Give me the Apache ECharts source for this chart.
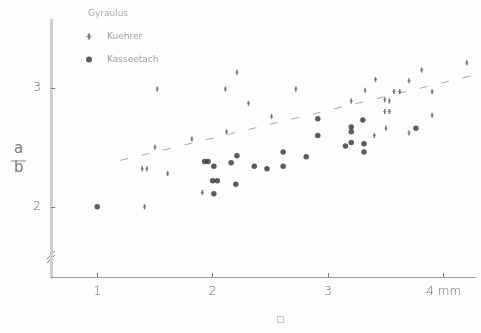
<!DOCTYPE html>
<html>
<head>
<meta charset="utf-8">
<script src="https://cdn.jsdelivr.net/npm/echarts@6/dist/echarts.min.js"></script>
<style>
  html, body { margin: 0; padding: 0; background: #fdfdfd; }
  #chart { width: 481px; height: 333px; }
</style>
</head>
<body>
<div id="chart"></div>
<script>
// Shell width (mm) against the a/b ratio for two Gyraulus populations
const legendTitle = 'Gyraulus';
const seriesNames = ['Kuehrer', 'Kasseetach'];

const kuehrerX = [1.52, 2.11, 2.21, 2.12, 1.82, 1.50, 1.39, 1.43, 1.61, 1.91, 1.41,
                  2.72, 2.31, 2.51, 3.41, 3.81, 4.20, 3.70, 3.90, 3.90, 3.32, 3.57,
                  3.62, 3.20, 3.49, 3.53, 3.49, 3.53, 3.50, 3.40, 3.70];
const kuehrerY = [2.99, 2.99, 3.13, 2.63, 2.57, 2.50, 2.32, 2.32, 2.28, 2.12, 2.00,
                  2.99, 2.87, 2.76, 3.07, 3.15, 3.21, 3.06, 2.97, 2.77, 2.98, 2.97,
                  2.97, 2.89, 2.90, 2.89, 2.80, 2.80, 2.66, 2.60, 2.62];

const kasseetachX = [1.00, 1.93, 1.96, 2.01, 2.21, 2.16, 2.36, 2.47, 2.61, 2.81, 2.61,
                     2.00, 2.04, 2.20, 2.01, 2.91, 2.91, 3.30, 3.20, 3.20, 3.20, 3.15,
                     3.31, 3.31, 3.76];
const kasseetachY = [2.00, 2.38, 2.38, 2.34, 2.43, 2.37, 2.34, 2.32, 2.46, 2.42, 2.34,
                     2.22, 2.22, 2.19, 2.11, 2.74, 2.60, 2.73, 2.67, 2.63, 2.54, 2.51,
                     2.53, 2.46, 2.66];

// Fitted trend for the Kuehrer sample
const trendX = [1.20, 4.28];
const trendY = [2.39, 3.11];

const xTicks = [1, 2, 3, 4];
const xTickLabels = ['1', '2', '3', '4 mm'];
const yTicks = [2, 3];
const yTickLabels = ['2', '3'];

const zip = (xs, ys) => xs.map((x, i) => [x, ys[i]]);

// small upright tick mark with a faint cross bar
const kuehrerSymbol = 'path://M3,0L7,0L7,10L3,10Z M1,4L9,4L9,6L1,6Z';

const chart = echarts.init(document.getElementById('chart'), null, { renderer: 'canvas' });

chart.setOption({
  backgroundColor: '#fdfdfd',
  animation: false,
  textStyle: { fontFamily: 'DejaVu Sans' },
  grid: { left: 51, right: 5, top: 20, bottom: 56, containLabel: false },
  xAxis: {
    type: 'value',
    min: 0.6,
    max: 4.28,
    splitLine: { show: false },
    axisLine: { show: true, lineStyle: { color: '#9a9a9a', width: 1 } },
    axisTick: { show: true, inside: true, length: 4, customValues: xTicks,
                lineStyle: { color: '#777' } },
    axisLabel: {
      customValues: xTicks,
      formatter: v => xTickLabels[xTicks.indexOf(v)],
      color: '#666', fontSize: 12, margin: 9, fontWeight: 300
    }
  },
  yAxis: {
    type: 'value',
    min: 1.41,
    max: 3.57,
    splitLine: { show: false },
    axisLine: { show: true, lineStyle: { color: '#cfcfcf', width: 3 } },
    axisTick: { show: true, inside: true, length: 4, customValues: yTicks,
                lineStyle: { color: '#777' } },
    axisLabel: {
      customValues: yTicks,
      formatter: v => yTickLabels[yTicks.indexOf(v)],
      color: '#666', fontSize: 12, margin: 10, fontWeight: 300
    }
  },
  legend: {
    orient: 'vertical',
    left: 86,
    top: 32,
    padding: 0,
    itemGap: 14,
    itemWidth: 6,
    itemHeight: 6,
    textStyle: { color: '#9c9c9c', fontSize: 9, padding: [0, 0, 0, 10] },
    data: [
      { name: seriesNames[0], icon: kuehrerSymbol, itemStyle: { color: '#666' } },
      { name: seriesNames[1], icon: 'circle', itemStyle: { color: '#333' } }
    ]
  },
  graphic: [
    { type: 'text', left: 88, top: 9,
      style: { text: legendTitle, fill: '#aaaaaa', font: '9px DejaVu Sans' } },
    { type: 'text', left: 14, top: 142,
      style: { text: 'a', fill: '#777', font: '15px DejaVu Sans' } },
    { type: 'line', shape: { x1: 11, y1: 161, x2: 26, y2: 161 },
      style: { stroke: '#888', lineWidth: 1 } },
    { type: 'text', left: 14, top: 161,
      style: { text: 'b', fill: '#777', font: '15px DejaVu Sans' } },
    { type: 'text', left: 276, top: 315,
      style: { text: '□', fill: '#999', font: '9px DejaVu Sans' } },
    { type: 'line', shape: { x1: 47, y1: 259, x2: 55, y2: 251 },
      style: { stroke: '#888', lineWidth: 1 } },
    { type: 'line', shape: { x1: 47, y1: 263, x2: 55, y2: 255 },
      style: { stroke: '#888', lineWidth: 1 } }
  ],
  series: [
    {
      name: 'trend',
      type: 'line',
      data: zip(trendX, trendY),
      symbol: 'none',
      silent: true,
      lineStyle: { color: '#aaa', width: 1, type: [8, 14] },
      z: 1
    },
    {
      name: seriesNames[0],
      type: 'scatter',
      data: zip(kuehrerX, kuehrerY),
      symbol: kuehrerSymbol,
      symbolSize: [3, 5],
      itemStyle: { color: '#555' },
      z: 3
    },
    {
      name: seriesNames[1],
      type: 'scatter',
      data: zip(kasseetachX, kasseetachY),
      symbol: 'circle',
      symbolSize: 5.5,
      itemStyle: { color: '#333' },
      z: 2
    }
  ]
});
</script>
</body>
</html>
